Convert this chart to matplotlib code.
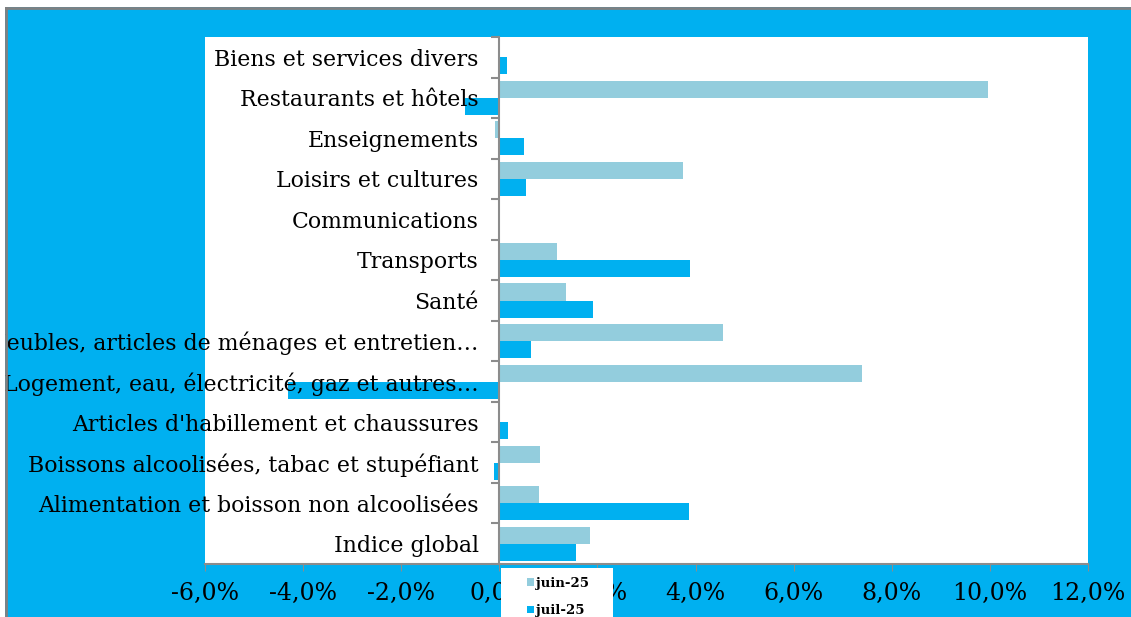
import matplotlib.pyplot as plt
import matplotlib.ticker as mticker
from matplotlib.patches import Rectangle
import numpy as np

categories = ['Indice global',
              'Alimentation et boisson non alcoolisées',
              'Boissons alcoolisées, tabac et stupéfiant',
              "Articles d'habillement et chaussures",
              'Logement, eau, électricité, gaz et autres…',
              'Meubles, articles de ménages et entretien…',
              'Santé',
              'Transports',
              'Communications',
              'Loisirs et cultures',
              'Enseignements',
              'Restaurants et hôtels',
              'Biens et services divers']
juin_25 = [1.85, 0.80, 0.82, 0.0, 7.39, 4.56, 1.36, 1.18, 0.0, 3.74, -0.08, 9.96, 0.0]
juil_25 = [1.56, 3.87, -0.10, 0.17, -4.31, 0.65, 1.91, 3.89, 0.0, 0.55, 0.50, -0.70, 0.15]
xticks = [-6, -4, -2, 0, 2, 4, 6, 8, 10, 12]

blue = '#00B0F0'
light = '#93CDDD'
grey = '#8C8C8C'

plt.rcParams['font.family'] = ['DejaVu Serif']
fig = plt.figure(figsize=(11.31, 6.17), dpi=100)
fig.patch.set_facecolor(blue)

# white margin + grey border at top/left like the original screenshot
fig.patches.append(Rectangle((0, 1 - 7/617), 1, 7/617, transform=fig.transFigure,
                             facecolor='white', edgecolor='none', zorder=0))
fig.patches.append(Rectangle((0, 0), 5/1131, 1, transform=fig.transFigure,
                             facecolor='white', edgecolor='none', zorder=0))
fig.add_artist(plt.Line2D([6/1131, 1], [1 - 7.5/617, 1 - 7.5/617], transform=fig.transFigure,
                          color='#808080', lw=2))
fig.add_artist(plt.Line2D([6/1131, 6/1131], [0, 1 - 7.5/617], transform=fig.transFigure,
                          color='#808080', lw=2))

ax = fig.add_axes([205/1131, 1 - 564/617, (1088 - 205)/1131, (564 - 37)/617])
ax.set_facecolor('white')

y = np.arange(len(categories))
h = 0.42
ax.barh(y + h/2, juin_25, height=h, color=light, label='juin-25')
ax.barh(y - h/2, juil_25, height=h, color=blue, label='juil-25')

ax.set_xlim(-6, 12)
ax.set_ylim(-0.5, len(categories) - 0.5)
ax.set_xticks(xticks)
ax.xaxis.set_major_formatter(mticker.FuncFormatter(lambda v, p: f'{v:.1f}%'.replace('.', ',')))
ax.tick_params(axis='x', labelsize=17, length=5, color=grey, pad=8)

ax.spines['top'].set_visible(False)
ax.spines['right'].set_visible(False)
ax.spines['bottom'].set_color(grey)
ax.spines['bottom'].set_linewidth(1.5)
ax.spines['left'].set_position(('data', 0))
ax.spines['left'].set_color(grey)
ax.spines['left'].set_linewidth(1.5)

ax.set_yticks(y)
ax.set_yticklabels(categories)
ax.set_yticks(np.arange(len(categories) + 1) - 0.5, minor=True)
ax.tick_params(axis='y', which='major', length=0, labelsize=15.8, pad=15)
ax.tick_params(axis='y', which='minor', length=6, color=grey, width=1.5)

# legend box (white, partly off the bottom edge)
fig.patches.append(Rectangle((501/1131, 0), 112/1131, (617 - 568)/617, transform=fig.transFigure,
                             facecolor='white', edgecolor='none', zorder=5))
leg = fig.legend(loc='upper left', bbox_to_anchor=(524/1131, 1 - 574/617), borderaxespad=0,
                 prop={'size': 9.5, 'weight': 'bold'}, handlelength=0.55, handleheight=0.55,
                 handletextpad=0.15, labelspacing=1.1, borderpad=0.2, frameon=False)
leg.set_zorder(6)

fig.savefig('out.png', dpi=100, facecolor=blue)
